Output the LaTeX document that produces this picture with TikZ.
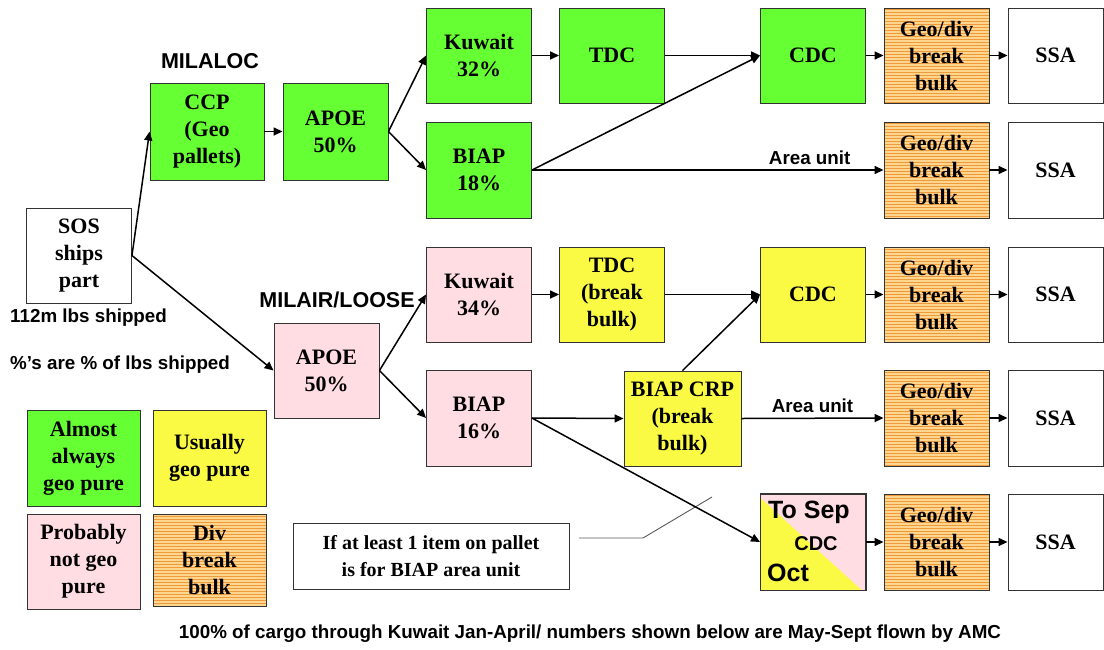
\documentclass[tikz,border=0pt]{standalone}
\usepackage{fontspec}
\setmainfont{Liberation Serif}
\newfontfamily\arialf{Liberation Sans}
\usetikzlibrary{arrows.meta,patterns}
\definecolor{cgreen}{HTML}{66FF33}
\definecolor{cyellow}{HTML}{FAFA45}
\definecolor{cpink}{HTML}{FFDDE2}
\definecolor{corangel}{HTML}{FFD690}
\definecolor{coranged}{HTML}{EE9A3A}
\definecolor{cborder}{HTML}{333333}
\begin{document}
\begin{tikzpicture}[x=1pt,y=-1pt,
  box/.style={draw=cborder,line width=0.9pt,minimum width=105pt,minimum height=95pt,inner sep=0pt,align=center,
    font=\bfseries\fontsize{22}{27}\selectfont},
  gbox/.style={box,fill=cgreen},
  ybox/.style={box,fill=cyellow},
  pbox/.style={box,fill=cpink},
  obox/.style={box,preaction={fill=corangel},pattern=horizontal lines,pattern color=coranged},
  wbox/.style={box,fill=white},
  lbl/.style={font=\arialf\bfseries\fontsize{21.5}{23}\selectfont,inner sep=0pt},
  slbl/.style={inner sep=0pt,font=\arialf\bfseries\fontsize{18.8}{20}\selectfont},
  conn/.style={line width=1.5pt,-{Triangle[length=9pt,width=8pt]}},
]
\useasboundingbox (0,0) rectangle (1104,649);
\fill[white] (0,0) rectangle (1104,649);

% ---- MILALOC branch
\node[wbox] (sos) at (79,255.5) {SOS\\ships\\part};
\node[gbox,minimum width=114pt,minimum height=97pt] (ccp) at (207,131.5) {CCP\\(Geo\\pallets)};
\node[gbox,minimum height=97pt] (apoe1) at (335.5,131.5) {APOE\\50\%};
\node[gbox] (kuw1) at (479,55.5) {Kuwait\\32\%};
\node[gbox] (tdc1) at (612,55.5) {TDC};
\node[gbox] (cdc1) at (813,55.5) {CDC};
\node[obox] (geo1) at (936.5,55.5) {Geo/div\\break\\bulk};
\node[wbox,minimum width=95pt] (ssa1) at (1055.5,55.5) {SSA};
\node[gbox,minimum height=96pt] (biap1) at (479,170) {BIAP\\18\%};
\node[obox,minimum height=96pt] (geo2) at (936.5,170) {Geo/div\\break\\bulk};
\node[wbox,minimum width=95pt,minimum height=96pt] (ssa2) at (1055.5,170) {SSA};

% ---- MILAIR branch
\node[pbox] (apoe2) at (326.5,370.5) {APOE\\50\%};
\node[pbox] (kuw3) at (479,294.5) {Kuwait\\34\%};
\node[ybox] (tdc3) at (612,294.5) {TDC\\(break\\bulk)};
\node[ybox] (cdc3) at (813,294.5) {CDC};
\node[obox] (geo3) at (936.5,294.5) {Geo/div\\break\\bulk};
\node[wbox,minimum width=95pt] (ssa3) at (1055.5,294.5) {SSA};
\node[pbox,minimum height=96pt] (biap4) at (479,418) {BIAP\\16\%};
\node[ybox,minimum width=117pt] (crp) at (682.5,418.5) {BIAP CRP\\(break\\bulk)};
\node[obox,minimum height=96pt] (geo4) at (936.5,418) {Geo/div\\break\\bulk};
\node[wbox,minimum width=95pt,minimum height=96pt] (ssa4) at (1055.5,418) {SSA};

% ---- To Sep / Oct CDC
\node[box,fill=cpink,minimum height=96pt] (tosep) at (813,542) {};
\fill[cyellow] ([yshift=-4pt]tosep.north west) -- (tosep.south west) -- ([xshift=-4pt]tosep.south east) -- cycle;
\draw[cborder,line width=0.9pt] (tosep.north west) rectangle (tosep.south east);
\node[font=\arialf\bfseries\fontsize{25}{27}\selectfont,inner sep=0pt,anchor=west] (tosept) at (768,512) {To Sep};
\node[font=\arialf\bfseries\fontsize{20}{22}\selectfont,inner sep=0pt] (tosepc) at (816,544) {CDC};
\node[font=\arialf\bfseries\fontsize{25}{27}\selectfont,inner sep=0pt,anchor=west] (tosepo) at (767,573) {Oct};
\node[obox,minimum height=96pt] (geo5) at (936.5,542) {Geo/div\\break\\bulk};
\node[wbox,minimum width=95pt,minimum height=96pt] (ssa5) at (1055.5,542) {SSA};

% ---- labels
\node[lbl] (milaloc) at (210,61) {MILALOC};
\node[lbl] (milair) at (337,300) {MILAIR/LOOSE};
\node[slbl,anchor=west] (lbs) at (10,318) {112m lbs shipped};
\node[slbl,anchor=west] (pct) at (10,365) {\%’s are \% of lbs shipped};
\node[slbl] (bottom) at (590,634) {100\% of cargo through Kuwait Jan-April/ numbers shown below are May-Sept flown by AMC};

% ---- legend
\node[gbox,minimum width=113pt,minimum height=96pt] (lg1) at (83.5,458) {Almost\\always\\geo pure};
\node[ybox,minimum width=113pt,minimum height=96pt] (lg2) at (209.5,458) {Usually\\geo pure};
\node[pbox,minimum width=113pt,minimum height=95pt] (lg3) at (83.5,561.5) {Probably\\not geo\\pure};
\node[obox,minimum width=113pt,minimum height=92pt] (lg4) at (209.5,560) {Div\\break\\bulk};

% ---- note
\node[box,fill=white,minimum width=276pt,minimum height=66pt,font=\bfseries\fontsize{20}{27}\selectfont] (note) at (431,556) {If at least 1 item on pallet\\is for BIAP area unit};
\coordinate (c1) at (579,538);
\coordinate (c2) at (643,538);
\coordinate (c3) at (712,497);
\draw[gray!70!black,line width=0.9pt] (c1) -- (c2) -- (c3);

% ---- connectors
\draw[conn] (sos.east) -- (ccp.west);
\draw[conn] (sos.east) -- (apoe2.west);
\draw[conn] (ccp.east) -- (apoe1.west);
\draw[conn] (apoe1.east) -- (kuw1.west);
\draw[conn] (apoe1.east) -- (biap1.west);
\draw[conn] (kuw1.east) -- (tdc1.west);
\draw[conn] (tdc1.east) -- (cdc1.west);
\draw[conn] (biap1.east) -- (cdc1.west);
\draw[conn] (cdc1.east) -- (geo1.west);
\draw[conn] (geo1.east) -- (ssa1.west);
\draw[conn] (biap1.east) -- node[slbl,above=5pt,pos=0.79] (au1) {Area unit} (geo2.west);
\draw[conn] (geo2.east) -- (ssa2.west);

\draw[conn] (apoe2.east) -- (kuw3.west);
\draw[conn] (apoe2.east) -- (biap4.west);
\draw[conn] (kuw3.east) -- (tdc3.west);
\draw[conn] (tdc3.east) -- (cdc3.west);
\draw[conn] (cdc3.east) -- (geo3.west);
\draw[conn] (geo3.east) -- (ssa3.west);
\draw[conn] (biap4.east) -- (crp.west);
\draw[conn] (crp.north) -- (cdc3.west);
\draw[conn] (crp.east) -- node[slbl,above=5pt,pos=0.5] (au2) {Area unit} (geo4.west);
\draw[conn] (geo4.east) -- (ssa4.west);
\draw[conn] (biap4.east) -- (tosep.west);
\draw[conn] (tosep.east) -- (geo5.west);
\draw[conn] (geo5.east) -- (ssa5.west);
\end{tikzpicture}
\end{document}
